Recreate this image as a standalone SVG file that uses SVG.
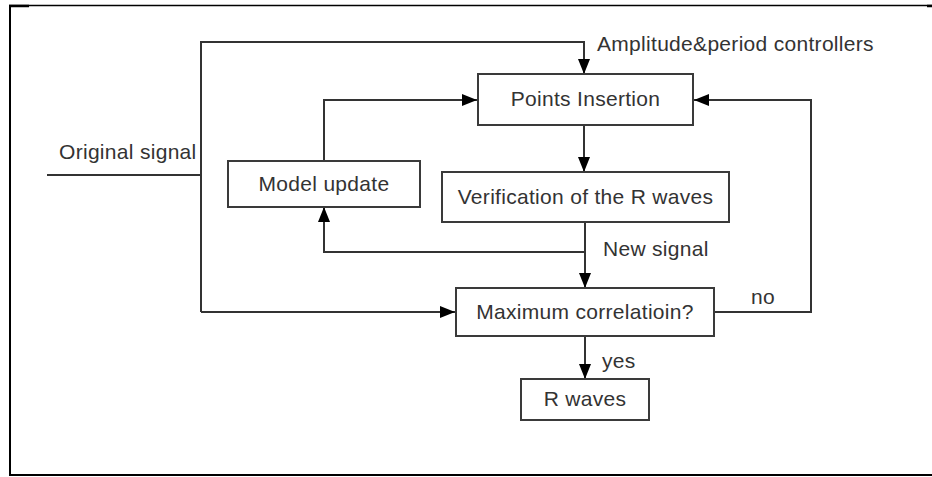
<svg xmlns="http://www.w3.org/2000/svg" width="932" height="477" viewBox="0 0 932 477">
<style>
.box{fill:#fff;stroke:#3a3a3a;stroke-width:2}
.ln{fill:none;stroke:#333;stroke-width:2}
.fr{fill:none;stroke:#000}
text{font-family:"Liberation Sans",Arial,sans-serif;font-size:21px;fill:#333;letter-spacing:0.3px}
.c{text-anchor:middle}
</style>
<defs>
<marker id="ah" viewBox="0 0 15 12" refX="15" refY="6" markerWidth="15" markerHeight="12" markerUnits="userSpaceOnUse" orient="auto">
<path d="M0,0 L15,6 L0,12 Z" fill="#000"/>
</marker>
</defs>
<rect width="932" height="477" fill="#fff"/>
<g id="frame">
<line class="fr" x1="10" y1="5" x2="10" y2="476" stroke-width="2"/>
<line class="fr" x1="9" y1="5.5" x2="932" y2="5.5" stroke-width="1.5"/>
<line class="fr" x1="9" y1="6" x2="29" y2="6" stroke-width="2.5"/>
<line class="fr" x1="927" y1="6" x2="932" y2="6" stroke-width="2.5"/>
<line class="fr" x1="9" y1="475" x2="932" y2="475" stroke-width="2"/>
</g>
<g id="connectors">
<path class="ln" d="M47,175 H201"/>
<path class="ln" d="M201,312 V42 H584 V74" marker-end="url(#ah)"/>
<path class="ln" d="M201,312 H455" marker-end="url(#ah)"/>
<path class="ln" d="M324,161 V100 H477" marker-end="url(#ah)"/>
<path class="ln" d="M584,125 V172" marker-end="url(#ah)"/>
<path class="ln" d="M585,222 V288" marker-end="url(#ah)"/>
<path class="ln" d="M585,252 H324 V207" marker-end="url(#ah)"/>
<path class="ln" d="M714,312 H811 V100 H694" marker-end="url(#ah)"/>
<path class="ln" d="M585,336 V379" marker-end="url(#ah)"/>
</g>
<g id="points-insertion">
<rect class="box" x="478" y="74" width="215" height="51"/>
<text class="c" x="585.5" y="106">Points Insertion</text>
</g>
<g id="model-update">
<rect class="box" x="228" y="161" width="192" height="46"/>
<text class="c" x="324" y="191">Model update</text>
</g>
<g id="verification">
<rect class="box" x="442" y="172" width="287" height="50"/>
<text class="c" x="585.5" y="204">Verification of the R waves</text>
</g>
<g id="max-correlation">
<rect class="box" x="456" y="288" width="258" height="48"/>
<text class="c" x="585" y="319">Maximum correlatioin?</text>
</g>
<g id="r-waves">
<rect class="box" x="521" y="379" width="128" height="41"/>
<text class="c" x="585" y="406">R waves</text>
</g>
<g id="labels">
<text x="597" y="51">Amplitude&amp;period controllers</text>
<text x="59" y="159">Original signal</text>
<text x="603" y="256">New signal</text>
<text class="c" x="763" y="304">no</text>
<text x="602" y="368">yes</text>
</g>
</svg>
